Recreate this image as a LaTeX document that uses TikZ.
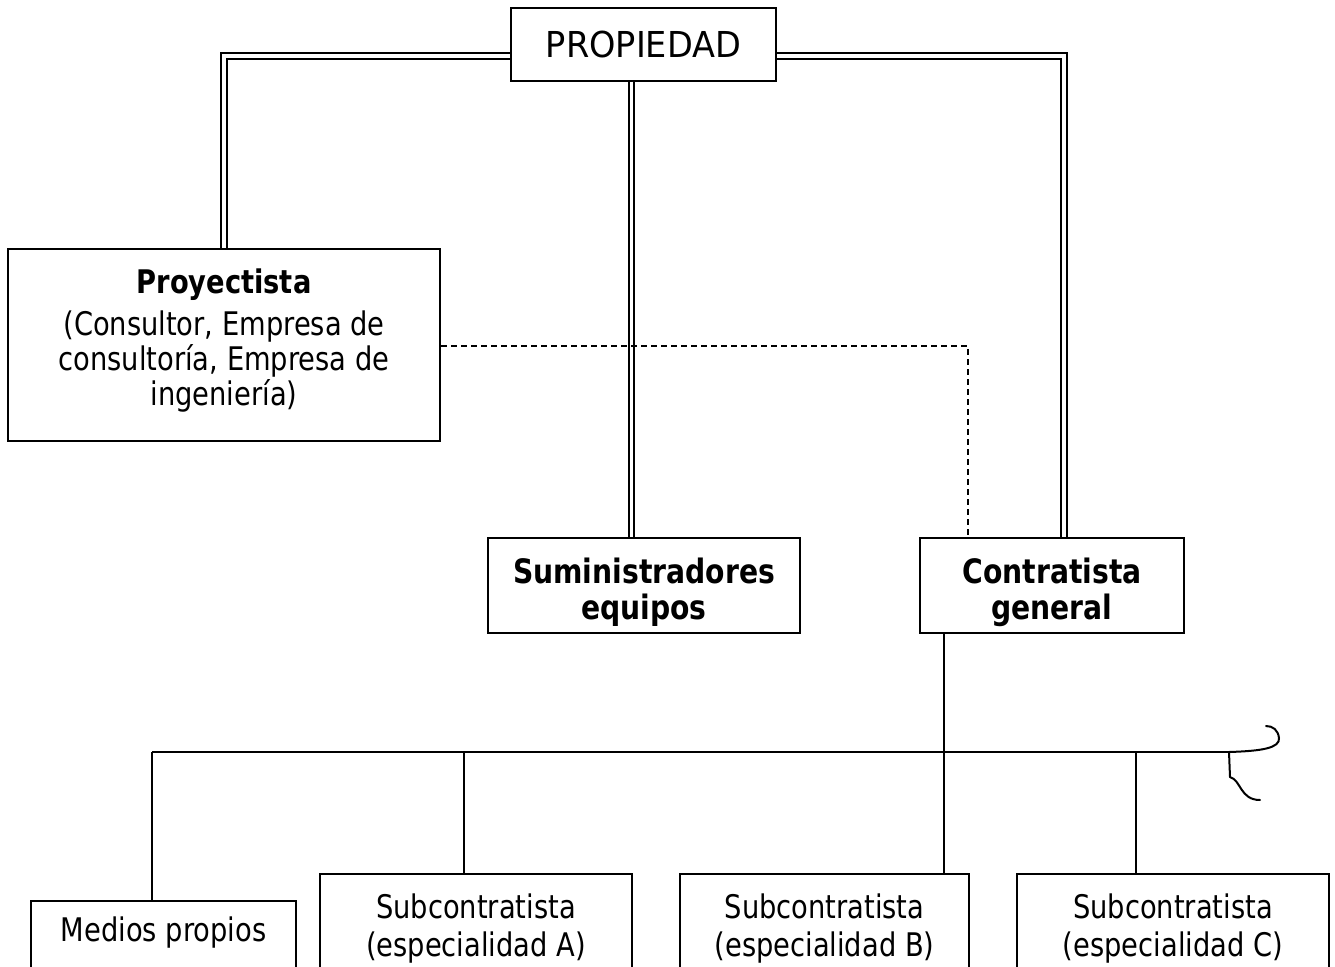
\documentclass[tikz,border=0pt]{standalone}
\usepackage{fontspec}
\setmainfont{DejaVu Sans}[FakeStretch=0.84]
\newfontfamily\titlefont{DejaVu Sans}[FakeStretch=0.94]
\begin{document}
\begin{tikzpicture}[x=1pt,y=-1pt,
  box/.style={draw, line width=2pt, inner sep=0pt, align=center,
              font=\fontsize{32.5}{35}\selectfont},
  boldbox/.style={box, font=\fontsize{33.6}{36}\selectfont\bfseries},
  subbox/.style={box, font=\fontsize{32.5}{38}\selectfont},
  link/.style={line width=2pt},
  dbl/.style={double, line width=2.1pt, double distance=3.6pt},
  soft/.style={line width=1.4pt, dash pattern=on 6pt off 4pt}]
\useasboundingbox (0,0) rectangle (1335,966);
\clip (0,0) rectangle (1335,966);

% owner
\node[box, minimum width=265pt, minimum height=72pt,
      font=\fontsize{35.7}{40}\titlefont] (prop) at (643.5,44.5) {PROPIEDAD};

% first level (anchored at the top edge; last baseline sits text height below it)
\node[box, anchor=north, minimum width=432pt, text height=156pt, text depth=36pt]
  (proy) at (224,248)
  {\textbf{Proyectista}\\[7pt](Consultor, Empresa de\\consultoría, Empresa de\\ingeniería)};
\node[boldbox, anchor=north, minimum width=312pt, text height=81pt, text depth=14pt]
  (sum) at (644,537) {Suministradores\\equipos};
\node[boldbox, anchor=north, minimum width=264pt, text height=81pt, text depth=14pt]
  (con) at (1052,537) {Contratista\\general};

% second level (boxes run past the lower edge)
\node[subbox, anchor=north, minimum width=265pt, text height=40pt, text depth=60pt]
  (med) at (163.5,900) {Medios propios};
\node[subbox, anchor=north, minimum width=312pt, text height=82pt, text depth=33pt]
  (subA) at (476,873) {Subcontratista\\(especialidad A)};
\node[subbox, anchor=north, minimum width=289pt, text height=82pt, text depth=33pt]
  (subB) at (824.5,873) {Subcontratista\\(especialidad B)};
\node[subbox, anchor=north, minimum width=312pt, text height=82pt, text depth=33pt]
  (subC) at (1173,873) {Subcontratista\\(especialidad C)};

% contractual links from the owner
\draw[dbl] ([yshift=-11.5pt]prop.west) -| (proy.north);
\draw[dbl] ([xshift=-12pt]prop.south) -- ([xshift=-12.5pt]sum.north);
\draw[dbl] ([yshift=-11.5pt]prop.east) -| ([xshift=12pt]con.north);

% coordination link
\draw[soft] ([yshift=-1pt]proy.east) -| ([xshift=-84pt]con.north);

% general contractor tree
\coordinate (busL) at (152,752);
\coordinate (busR) at (1229,752);
\draw[link] ([xshift=-108pt]con.south) -- ([xshift=119.5pt]subB.north);
\draw[link] (busL) -- (busR);
\draw[link] (busL) -- ([xshift=-11.5pt]med.north);
\draw[link] ([xshift=-12pt]subA.north) -- ++(0,-121);
\draw[link] ([xshift=-37pt]subC.north) -- ++(0,-121);

% open-ended brace at the end of the bus
\draw[link, line cap=round] (busR) .. controls (1262,751) and (1280,748) .. (1279,738)
  .. controls (1278,730) and (1273,726) .. (1266,726);
\draw[link, line cap=round] (busR) -- (1230,777)
  .. controls (1241,780) and (1240,800) .. (1260,800);
\end{tikzpicture}
\end{document}
